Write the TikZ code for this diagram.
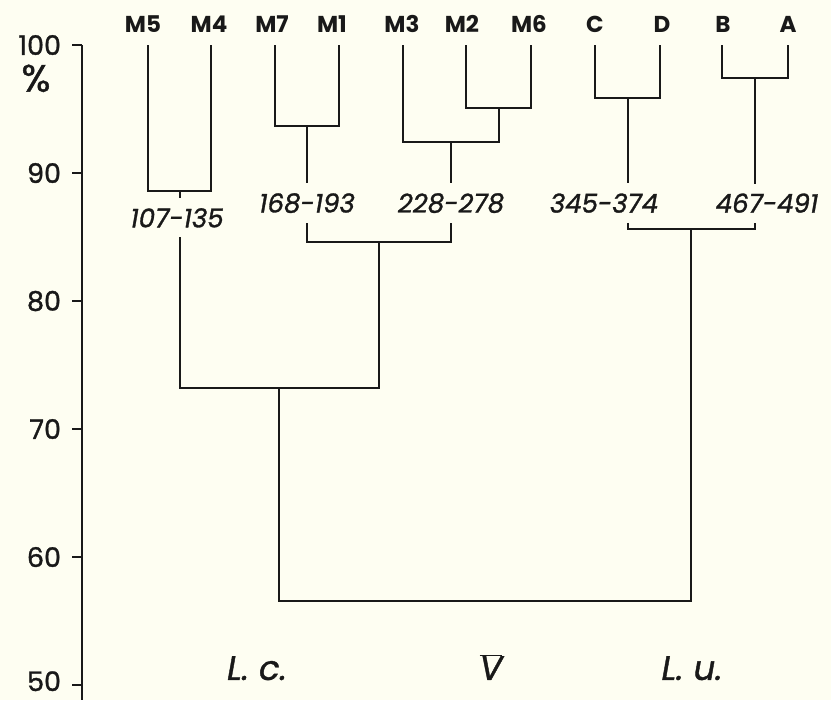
\documentclass[tikz,border=0pt]{standalone}
\usepackage{fontspec}
\setmainfont{Poppins}
\newfontfamily\heavyfont{Poppins}[FakeBold=1.2]
\usepackage{tikz}
\usetikzlibrary{calc}
\definecolor{paper}{RGB}{254,254,242}
\definecolor{ink}{RGB}{25,25,25}

\begin{document}
\begin{tikzpicture}[x=1pt,y=12.8pt,line width=2pt,draw=ink]
\tikzstyle{leaflbl}=[font=\fontsize{23}{27}\selectfont\bfseries,anchor=base,inner sep=0pt,text=ink]
\tikzstyle{rangelbl}=[font=\fontsize{26}{30}\selectfont\heavyfont\itshape,inner xsep=2pt,inner ysep=9pt,text=ink]
\tikzstyle{ticklbl}=[font=\fontsize{27}{30}\selectfont\heavyfont,anchor=east,inner sep=0pt,text=ink]
\tikzstyle{taxonlbl}=[font=\fontsize{34}{38}\selectfont\heavyfont\itshape,anchor=base,text=ink]
\fill[paper] (0,48.83) rectangle (831,103.52);
\useasboundingbox (0,48.83) rectangle (831,103.52);
% similarity scale
\coordinate (top) at (82,100);
\coordinate (bot) at (82,48.83);
\draw (top) -- (bot);
\foreach \v in {60,70,...,100}{
  \draw (72,\v) -- (82,\v);
  \node[ticklbl] (t\v) at (62,\v) {\v};
}
\draw (72,50) -- (82,50);
\node[ticklbl] (t50) at (62,50.3) {50};
\node[ticklbl,anchor=center,font=\fontsize{38}{42}\selectfont\heavyfont] (pct) at (36,97.4) {\%};
% leaves
\foreach \n/\lx/\x in {M5/143/148,M4/209/211,M7/272/275,M1/332/339,M3/402/403,M2/462/466,M6/529/531,C/595/595,D/662/660,B/723/722,A/788/788}{
  \node[leaflbl] (\n) at (\lx,101) {\n};
  \coordinate (\n-top) at (\x,100);
}
% junctions
\coordinate (j54) at (179.5,88.6);
\coordinate (j71) at (307,93.7);
\coordinate (j26) at (498.5,95.1);
\coordinate (j326) at (450.75,92.4);
\coordinate (jcd) at (627.5,95.9);
\coordinate (jba) at (755,97.4);
\coordinate (jmid) at (379,84.6);
\coordinate (ju) at (691,85.6);
\coordinate (jc) at (279,73.2);
\coordinate (root) at (485,56.6);
% ranges
\node[rangelbl] (r1) at (177,86.5) {107-135};
\node[rangelbl] (r2) at (307,87.65) {168-193};
\node[rangelbl] (r3) at (451,87.65) {228-278};
\node[rangelbl] (r4) at (604,87.65) {345-374};
\node[rangelbl] (r5) at (767,87.65) {467-491};
\draw (M5-top) |- (j54) -| (M4-top);
\draw (M7-top) |- (j71) -| (M1-top);
\draw (M2-top) |- (j26) -| (M6-top);
\draw (M3-top) |- (j326) -| (j26);
\draw (C-top) |- (jcd) -| (D-top);
\draw (B-top) |- (jba) -| (A-top);
\draw (j54) -- (j54 |- r1.north);
\draw (j71) -- (j71 |- r2.north);
\draw (j326) -- (j326 |- r3.north);
\draw (jcd) -- (jcd |- r4.north);
\draw (jba) -- (jba |- r5.north);
\draw (j71 |- r2.south) |- (jmid) -| (j326 |- r3.south);
\draw (jcd |- r4.south) |- (ju) -| (jba |- r5.south);
\draw (j54 |- r1.south) |- (jc) -| (jmid);
\draw (jc) |- (root) -| (ju);
% groups
\node[taxonlbl] (lc) at (257,50.4) {L.\ c.};
\node[taxonlbl] (vbar) at (491,50.4) {$\overline{\mbox{\heavyfont\itshape V}}$};
\node[taxonlbl] (lu) at (692,50.4) {L.\ u.};
\end{tikzpicture}
\end{document}
